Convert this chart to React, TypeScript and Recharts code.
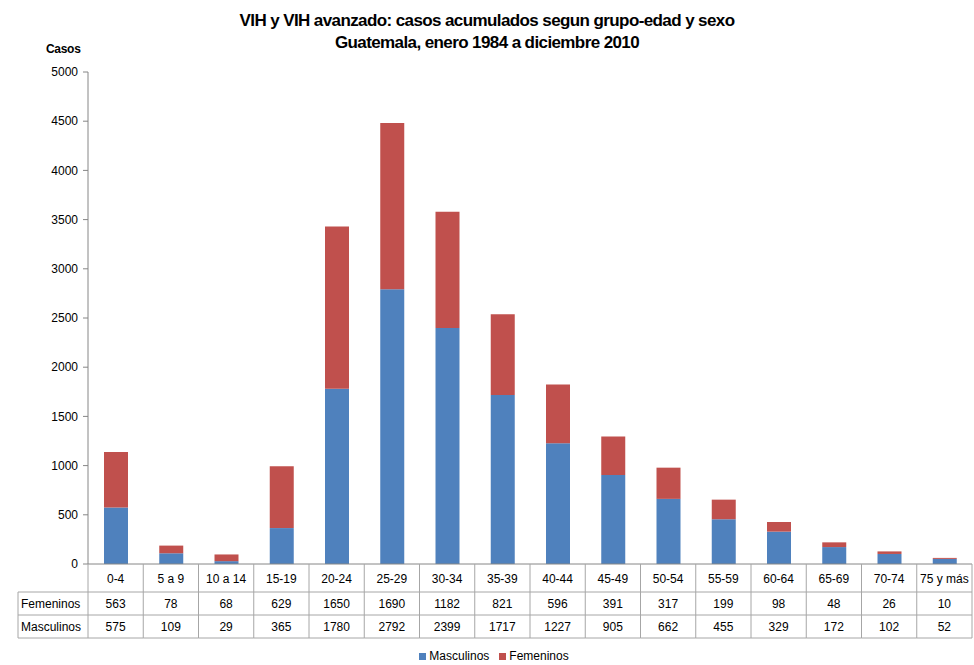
import { BarChart, Bar, XAxis, YAxis } from "recharts";

const ageGroups = [
  "0-4", "5 a 9", "10 a 14", "15-19", "20-24", "25-29", "30-34", "35-39",
  "40-44", "45-49", "50-54", "55-59", "60-64", "65-69", "70-74", "75 y más",
];
const femeninos = [563, 78, 68, 629, 1650, 1690, 1182, 821, 596, 391, 317, 199, 98, 48, 26, 10];
const masculinos = [575, 109, 29, 365, 1780, 2792, 2399, 1717, 1227, 905, 662, 455, 329, 172, 102, 52];
const yTicks = [0, 500, 1000, 1500, 2000, 2500, 3000, 3500, 4000, 4500, 5000];

const data = ageGroups.map((g, i) => ({
  grupo: g,
  Masculinos: masculinos[i],
  Femeninos: femeninos[i],
}));

const BLUE = "#4F81BD";
const RED = "#C0504D";
const GRID = "#A6A6A6";
const FONT = "'Liberation Sans', Arial, sans-serif";

const W = 974;
const H = 665;
const LEFT = 88;
const RIGHT = 2;
const BAND = (W - LEFT - RIGHT) / ageGroups.length;
const ROW1 = 28;
const ROW = 23;

// draws one column of the data table under the axis
const TableTick = (props: any) => {
  const { x, y, payload, index } = props;
  const i = index ?? ageGroups.indexOf(payload.value);
  const left = x - BAND / 2;
  const tStyle = { fontFamily: FONT, fontSize: 12, fill: "#000" };
  return (
    <g>
      <line x1={left + BAND} y1={y} x2={left + BAND} y2={y + ROW1 + 2 * ROW} stroke={GRID} />
      {i === 0 && (
        <g>
          <line x1={left} y1={y} x2={left} y2={y + ROW1 + 2 * ROW} stroke={GRID} />
          <line x1={18} y1={y + ROW1} x2={left} y2={y + ROW1} stroke={GRID} />
          <line x1={18} y1={y + ROW1 + ROW} x2={left} y2={y + ROW1 + ROW} stroke={GRID} />
          <line x1={18} y1={y + ROW1 + 2 * ROW} x2={left} y2={y + ROW1 + 2 * ROW} stroke={GRID} />
          <line x1={18} y1={y + ROW1} x2={18} y2={y + ROW1 + 2 * ROW} stroke={GRID} />
          <text x={21} y={y + ROW1 + 16} {...tStyle}>Femeninos</text>
          <text x={21} y={y + ROW1 + ROW + 16} {...tStyle}>Masculinos</text>
        </g>
      )}
      <line x1={left} y1={y + ROW1} x2={left + BAND} y2={y + ROW1} stroke={GRID} />
      <line x1={left} y1={y + ROW1 + ROW} x2={left + BAND} y2={y + ROW1 + ROW} stroke={GRID} />
      <line x1={left} y1={y + ROW1 + 2 * ROW} x2={left + BAND} y2={y + ROW1 + 2 * ROW} stroke={GRID} />
      <text x={x} y={y + 19} textAnchor="middle" {...tStyle}>{payload.value}</text>
      <text x={x} y={y + ROW1 + 16} textAnchor="middle" {...tStyle}>{femeninos[i]}</text>
      <text x={x} y={y + ROW1 + ROW + 16} textAnchor="middle" {...tStyle}>{masculinos[i]}</text>
    </g>
  );
};

const App = () => {
  return (
    <div style={{ position: "absolute", left: 0, top: 0, width: W, height: H, background: "#fff", fontFamily: FONT }}>
      <div style={{ position: "absolute", left: 0, width: W, top: 10, textAlign: "center", fontWeight: "bold", fontSize: 17, lineHeight: "22px", letterSpacing: -0.6 }}>
        <div>VIH y VIH avanzado: casos acumulados segun grupo-edad y sexo</div>
        <div>Guatemala, enero 1984 a diciembre 2010</div>
      </div>
      <div style={{ position: "absolute", left: 46, top: 42, fontWeight: "bold", fontSize: 12, letterSpacing: -0.3 }}>
        Casos
      </div>
      <BarChart
        width={W}
        height={H}
        data={data}
        margin={{ top: 72, right: RIGHT, left: 0, bottom: 25 }}
        barSize={24}
      >
        <XAxis
          dataKey="grupo"
          height={76}
          tickSize={0}
          tickMargin={0}
          tickLine={false}
          interval={0}
          stroke="#868686"
          tick={<TableTick />}
        />
        <YAxis
          width={LEFT}
          domain={[0, 5000]}
          ticks={yTicks}
          interval={0}
          stroke="#868686"
          tickSize={5}
          tickMargin={5}
          tick={{ fontFamily: FONT, fontSize: 12, fill: "#000" }}
        />
        <Bar dataKey="Masculinos" stackId="a" fill={BLUE} isAnimationActive={false} />
        <Bar dataKey="Femeninos" stackId="a" fill={RED} isAnimationActive={false} />
      </BarChart>
      <div style={{ position: "absolute", top: 649, left: 0, width: W, display: "flex", justifyContent: "center", gap: 10, fontSize: 12, paddingLeft: 14, boxSizing: "border-box" }}>
        <span style={{ display: "flex", alignItems: "center", gap: 3 }}>
          <span style={{ width: 7, height: 7, background: BLUE, display: "inline-block" }} />
          Masculinos
        </span>
        <span style={{ display: "flex", alignItems: "center", gap: 3 }}>
          <span style={{ width: 7, height: 7, background: RED, display: "inline-block" }} />
          Femeninos
        </span>
      </div>
    </div>
  );
};

export default App;
